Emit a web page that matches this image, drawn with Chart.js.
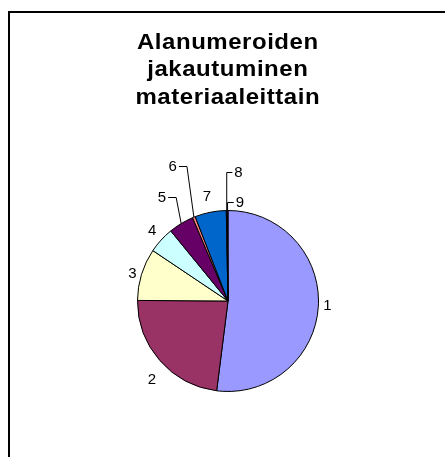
<!DOCTYPE html>
<html>
<head>
<meta charset="utf-8">
<script src="https://cdn.jsdelivr.net/npm/chart.js@4"></script>
<style>
  html, body { margin: 0; padding: 0; background: #fff; }
  #c { display: block; }
</style>
</head>
<body>
<canvas id="c" width="445" height="457"></canvas>
<script>
// ---- data ----
const categories = ['1', '2', '3', '4', '5', '6', '7', '8', '9'];
const shares = [52.0, 23.1, 9.3, 4.7, 4.5, 0.5, 5.6, 0.15, 0.15];
const sliceColors = ['#9999FF', '#993366', '#FFFFCC', '#CCFFFF', '#660066', '#FF8080', '#0066CC', '#CCCCFF', '#000080'];
const titleLines = ['Alanumeroiden', 'jakautuminen', 'materiaaleittain'];

// label placement (offset of label centre from slice's outer mid point) and leader flags
const labelOffsets = [[9.2, -0.4], [-8, 18.8], [-9.2, -0.5], [-9, -9.5], [-19.2, -25.5], [-21.1, -49.9], [-3.5, -15.7], [11.8, -38], [12.3, -8]];
const labelLeaders = [false, false, false, false, true, true, false, true, true];

const framePlugin = {
  id: 'frame',
  beforeDraw(chart) {
    const ctx = chart.ctx;
    ctx.save();
    ctx.fillStyle = '#000';
    ctx.fillRect(8, 11, 2, chart.height - 11);
    ctx.fillRect(8, 11, chart.width - 8, 2);
    ctx.restore();
    // title styling: slightly widened glyphs as in the reference
    const cx = (chart.chartArea.left + chart.chartArea.right) / 2 + 2;
    ctx.save();
    ctx.translate(cx, 0);
    ctx.scale(1.09, 1);
    ctx.translate(-cx, 0);
    ctx.letterSpacing = '0.5px';
  },
  beforeDatasetsDraw(chart) {
    chart.ctx.restore();
  }
};

const labelPlugin = {
  id: 'sliceLabels',
  afterDatasetsDraw(chart) {
    const ctx = chart.ctx;
    const meta = chart.getDatasetMeta(0);
    ctx.save();
    ctx.letterSpacing = '0px';
    ctx.font = '15px "Liberation Sans", Arial, sans-serif';
    ctx.fillStyle = '#000';
    ctx.strokeStyle = '#000';
    ctx.lineWidth = 1;
    ctx.textAlign = 'center';
    ctx.textBaseline = 'middle';
    meta.data.forEach((arc, i) => {
      const p = arc.getProps(['x', 'y', 'startAngle', 'endAngle', 'outerRadius'], true);
      const mid = (p.startAngle + p.endAngle) / 2;
      const ex = p.x + p.outerRadius * Math.cos(mid);
      const ey = p.y + p.outerRadius * Math.sin(mid);
      const lx = ex + labelOffsets[i][0];
      const ly = ey + labelOffsets[i][1];
      const text = categories[i];
      ctx.fillText(text, lx, ly);
      if (labelLeaders[i]) {
        const hw = ctx.measureText(text).width / 2;
        let sx, elbow;
        if (ex > lx) {
          sx = lx + hw + 2;
          elbow = Math.min(sx + 8, ex);
        } else {
          sx = lx - hw - 2;
          elbow = Math.max(sx - 8, ex);
        }
        const sy = Math.round(ly - 1) + 0.5;
        ctx.beginPath();
        ctx.moveTo(sx, sy);
        ctx.lineTo(elbow, sy);
        ctx.lineTo(ex, ey);
        ctx.stroke();
      }
    });
    ctx.restore();
  }
};

new Chart(document.getElementById('c'), {
  type: 'pie',
  data: {
    labels: categories,
    datasets: [{
      data: shares,
      backgroundColor: sliceColors,
      borderColor: '#000',
      borderWidth: 1
    }]
  },
  options: {
    responsive: false,
    animation: false,
    layout: { padding: { top: 0, bottom: 65, left: 20, right: 9 } },
    plugins: {
      legend: { display: false },
      tooltip: { enabled: false },
      title: {
        display: true,
        text: titleLines,
        color: '#000',
        font: { family: '"Liberation Sans", Arial, sans-serif', size: 22, weight: 'bold', lineHeight: 1.25 },
        padding: { top: 28.75, bottom: 98.75 }
      }
    }
  },
  plugins: [framePlugin, labelPlugin]
});
</script>
</body>
</html>
